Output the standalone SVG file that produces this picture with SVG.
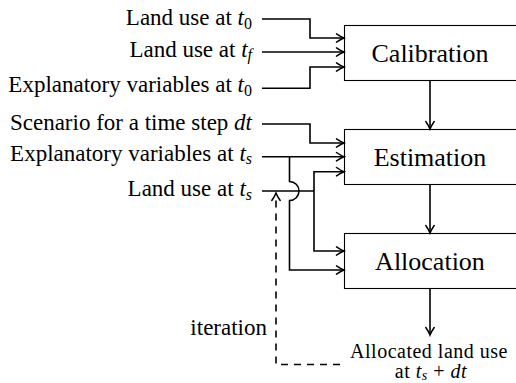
<svg xmlns="http://www.w3.org/2000/svg" width="516" height="383" viewBox="0 0 516 383">
<style>
.lbl{font-size:23px;text-anchor:end}
.box{font-size:26px;text-anchor:middle}
.mid{font-size:20px;text-anchor:middle;letter-spacing:0.5px}
.i{font-style:italic}
.sub{font-size:16px}
.sub2{font-size:14px}
.node rect{fill:#fff;stroke:#000;stroke-width:1.1}
.c path{fill:none;stroke:#000;stroke-width:1.6}
.c path.arr{marker-end:url(#ah)}
.c path.dash{stroke-dasharray:7 6}
</style>
<defs>
<marker id="ah" viewBox="-10 -6 12 12" refX="0" refY="0" markerWidth="12" markerHeight="12" markerUnits="userSpaceOnUse" orient="auto">
<path d="M-7.5,-4.2 Q-2.8,-1 0,0 Q-2.8,1 -7.5,4.2" fill="none" stroke="#000" stroke-width="1.5" stroke-linecap="round" stroke-dasharray="none"/>
</marker>
</defs>
<g font-family="'Liberation Serif', 'DejaVu Serif', serif" fill="#000">
<g id="calibration" class="node"><rect x="344.5" y="25.5" width="180" height="55"/><text class="box" x="430" y="61.5">Calibration</text></g>
<g id="estimation" class="node"><rect x="344.5" y="129.5" width="180" height="55"/><text class="box" x="430" y="165.7">Estimation</text></g>
<g id="allocation" class="node"><rect x="344.5" y="233.5" width="180" height="55"/><text class="box" x="430" y="269.5">Allocation</text></g>

<g id="in-lu-t0"><text class="lbl" x="252" y="25">Land use at <tspan class="i">t</tspan><tspan class="sub" dy="3.5">0</tspan></text></g>
<g id="in-lu-tf"><text class="lbl" x="252" y="56.5">Land use at <tspan class="i">t</tspan><tspan class="sub i" dy="3.5">f</tspan></text></g>
<g id="in-ev-t0"><text class="lbl" x="252" y="92.3">Explanatory variables at <tspan class="i">t</tspan><tspan class="sub" dy="3.5">0</tspan></text></g>
<g id="in-scenario"><text class="lbl" x="252" y="130">Scenario for a time step <tspan class="i">dt</tspan></text></g>
<g id="in-ev-ts"><text class="lbl" x="252" y="160.5">Explanatory variables at <tspan class="i">t</tspan><tspan class="sub i" dy="3.5">s</tspan></text></g>
<g id="in-lu-ts"><text class="lbl" x="252" y="196">Land use at <tspan class="i">t</tspan><tspan class="sub i" dy="3.5">s</tspan></text></g>
<g id="iteration-label"><text class="lbl" x="267" y="335">iteration</text></g>
<g id="output"><text class="mid"><tspan x="429" y="357.5">Allocated land use</tspan><tspan x="431" y="377.5">at <tspan class="i">t</tspan><tspan class="sub2 i" dy="2">s</tspan><tspan dy="-2"> + </tspan><tspan class="i">dt</tspan></tspan></text></g>
</g>
<g id="connectors" class="c">
<path class="arr" d="M262,19 H310 V38 H344"/>
<path class="arr" d="M262,52 H344"/>
<path class="arr" d="M262,88.3 H310 V67 H344"/>
<path class="arr" d="M430,80 V129"/>
<path class="arr" d="M262,124 H310 V143 H344"/>
<path class="arr" d="M262,156.7 H344"/>
<path class="arr" d="M289.5,156.7 V181.5 A9.5,9.5 0 0 1 289.5,200.5 V270 H344"/>
<path d="M262,191 H314"/>
<path class="arr" d="M314,191 V171.7 H344"/>
<path class="arr" d="M314,191 V251 H344"/>
<path class="arr" d="M430,184 V233"/>
<path class="arr" d="M430,288 V335"/>
<path class="arr dash" d="M340,364.5 H276 V193"/>
</g>
</svg>
